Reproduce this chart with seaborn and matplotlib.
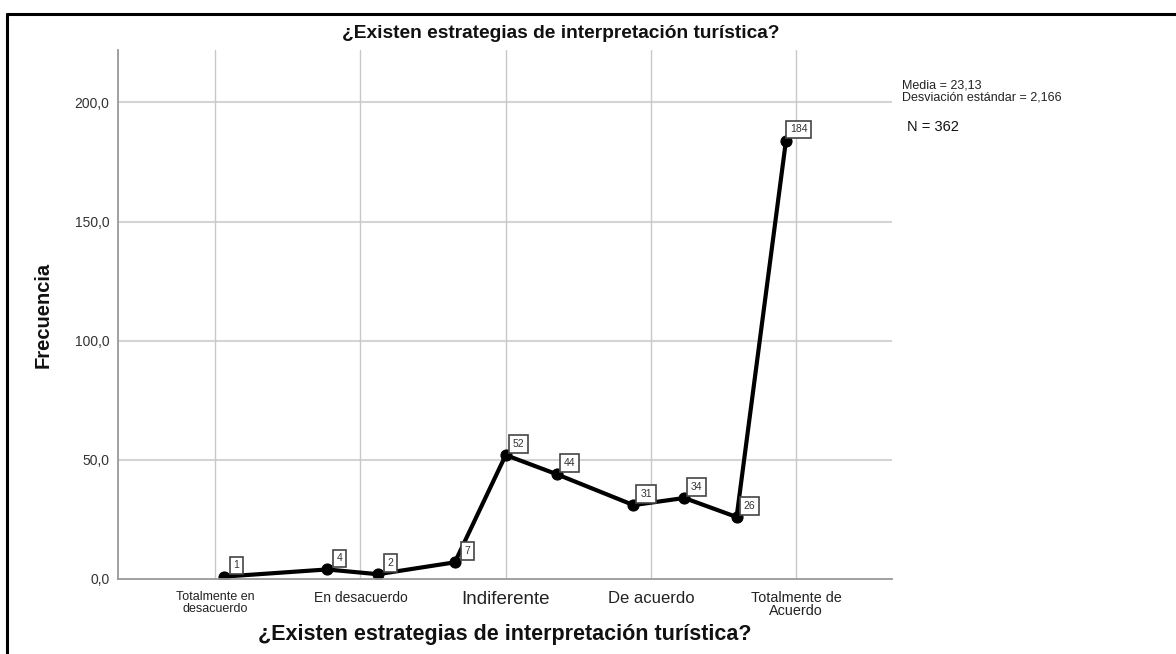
import matplotlib
matplotlib.use("Agg")
import matplotlib.pyplot as plt
import seaborn as sns
from matplotlib.lines import Line2D

# Data
pos = [1.06, 1.77, 2.12, 2.65, 3.00, 3.35, 3.88, 4.23, 4.59, 4.93]
freq = [1, 4, 2, 7, 52, 44, 31, 34, 26, 184]
categories = ["Totalmente en\ndesacuerdo", "En desacuerdo", "Indiferente",
              "De acuerdo", "Totalmente de\nAcuerdo"]
cat_sizes = [9, 10, 13.5, 12, 10.4]
y_ticks = [0, 50, 100, 150, 200]
y_labels = ["0,0", "50,0", "100,0", "150,0", "200,0"]
title = "¿Existen estrategias de interpretación turística?"
stats_text = "Media = 23,13\nDesviación estándar = 2,166"
n_text = "N = 362"

sns.set_style("white")
plt.rcParams["font.family"] = ["Liberation Sans", "DejaVu Sans"]

fig = plt.figure(figsize=(11.76, 6.54), dpi=100)
ax = fig.add_axes([0.1003, 0.1147, 0.6582, 0.8089])

# grid
for y in y_ticks[1:]:
    ax.axhline(y, color="#d4d4d4", lw=1.5, zorder=0)
for x in range(1, 6):
    ax.axvline(x, color="#c8c8c8", lw=1.0, zorder=0)

sns.lineplot(x=pos, y=freq, ax=ax, color="black", linewidth=3,
             marker="o", markersize=8, markeredgecolor="black", sort=False)

for x, y in zip(pos, freq):
    ax.annotate(str(y), (x, y), xytext=(9, 8), textcoords="offset points",
                ha="center", va="center", fontsize=7.5, color="#333333",
                bbox=dict(boxstyle="square,pad=0.36", fc="white", ec="#444444", lw=1.2))

ax.set_xlim(0.33, 5.66)
ax.set_ylim(0, 222)
ax.set_xticks(range(1, 6))
ax.set_xticklabels(categories, linespacing=0.9, color="#222222")
for lab, s in zip(ax.get_xticklabels(), cat_sizes):
    lab.set_fontsize(s)
ax.set_yticks(y_ticks)
ax.set_yticklabels(y_labels, fontsize=10, color="#333333")
ax.tick_params(axis="x", length=0, pad=9)
ax.tick_params(axis="y", length=0, pad=6)

for side in ["top", "right"]:
    ax.spines[side].set_visible(False)
for side in ["left", "bottom"]:
    ax.spines[side].set_color("#999999")
    ax.spines[side].set_linewidth(1.3)

ax.set_xlabel(title, fontsize=15.5, fontweight="bold", color="#111111")
ax.xaxis.set_label_coords(0.5, -0.085)
ax.set_ylabel("Frecuencia", fontsize=14.5, fontweight="bold", color="#111111")
ax.yaxis.set_label_coords(-0.084, 0.5)

fig.text(561 / 1176, 1 - 34 / 654, title, ha="center", va="center",
         fontsize=13.8, fontweight="bold", color="#111111")
fig.text(902 / 1176, 1 - 92 / 654, stats_text, ha="left", va="center",
         fontsize=9, linespacing=1.0, color="#222222")
fig.text(907 / 1176, 1 - 127 / 654, n_text, ha="left", va="center",
         fontsize=10.5, color="#111111")

# outer frame (top and left edges visible)
fig.add_artist(Line2D([7 / 1176, 1], [1 - 14 / 654, 1 - 14 / 654],
                      color="black", lw=2.2, transform=fig.transFigure))
fig.add_artist(Line2D([7 / 1176, 7 / 1176], [0, 1 - 14 / 654],
                      color="black", lw=2.2, transform=fig.transFigure))

fig.savefig("out.png", dpi=100)
